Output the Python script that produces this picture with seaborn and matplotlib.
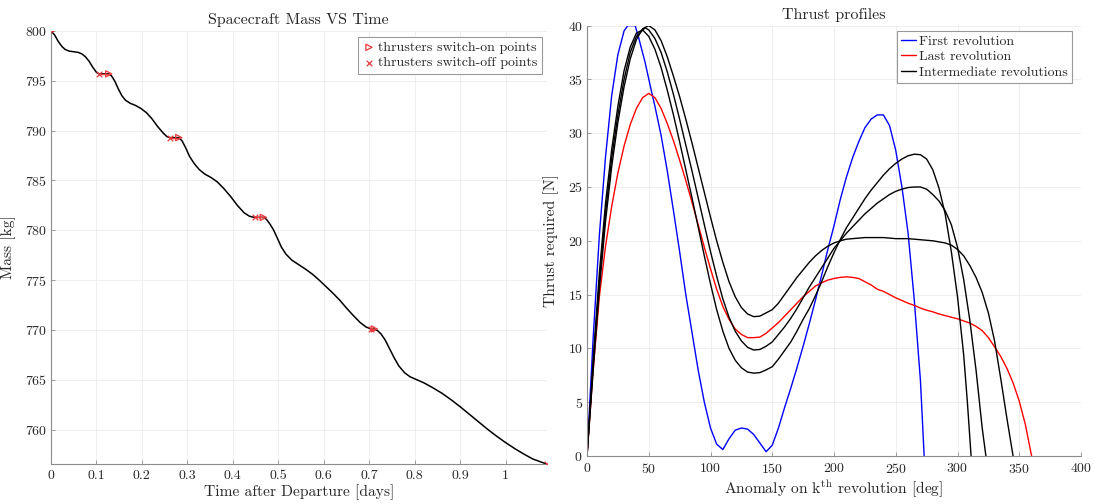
import numpy as np
import pandas as pd
import matplotlib
matplotlib.use("Agg")
import matplotlib.pyplot as plt
import seaborn as sns
from matplotlib.ticker import FuncFormatter

# ---------------- data: left panel (mass vs time) ----------------
time_days = [0, 0.008, 0.016, 0.024, 0.031, 0.04, 0.05, 0.06, 0.068, 0.076, 0.084, 0.092, 0.1,
             0.106, 0.127, 0.133, 0.14, 0.148, 0.156, 0.164, 0.174, 0.185, 0.197, 0.21, 0.222,
             0.234, 0.246, 0.255, 0.262, 0.281, 0.288, 0.296, 0.305, 0.315, 0.326, 0.338, 0.352,
             0.366, 0.38, 0.395, 0.41, 0.425, 0.437, 0.448, 0.467, 0.474, 0.482, 0.49, 0.498,
             0.507, 0.517, 0.53, 0.545, 0.56, 0.575, 0.59, 0.605, 0.62, 0.635, 0.65, 0.665, 0.68,
             0.693, 0.704, 0.711, 0.718, 0.726, 0.735, 0.745, 0.755, 0.765, 0.778, 0.79, 0.8,
             0.82, 0.84, 0.86, 0.88, 0.9, 0.92, 0.94, 0.96, 0.98, 1.0, 1.02, 1.04, 1.06, 1.075, 1.09]
mass_kg = [800, 799.6, 798.95, 798.45, 798.15, 797.98, 797.92, 797.85, 797.7, 797.4, 796.95, 796.35,
           795.85, 795.7, 795.7, 795.5, 795.0, 794.2, 793.5, 793.05, 792.75, 792.55, 792.25, 791.8,
           791.2, 790.45, 789.8, 789.4, 789.3, 789.3, 789.0, 788.3, 787.4, 786.7, 786.1, 785.65,
           785.3, 784.85, 784.2, 783.4, 782.5, 781.75, 781.4, 781.3, 781.3, 781.1, 780.6, 780.0,
           779.2, 778.3, 777.6, 777.0, 776.55, 776.1, 775.6, 775.0, 774.35, 773.7, 773.0, 772.2,
           771.45, 770.75, 770.3, 770.1, 770.1, 769.95, 769.6, 769.0, 768.1, 767.2, 766.4, 765.7,
           765.3, 765.1, 764.7, 764.2, 763.65, 763.0, 762.3, 761.55, 760.8, 760.05, 759.35,
           758.7, 758.1, 757.55, 757.05, 756.8, 756.55]
switch_on_t = [0, 0.127, 0.281, 0.467, 0.711]
switch_on_m = [800, 795.7, 789.3, 781.3, 770.1]
switch_off_t = [0.106, 0.262, 0.448, 0.704, 1.09]
switch_off_m = [795.7, 789.3, 781.3, 770.1, 756.55]

# ---------------- data: right panel (thrust profiles) ----------------
first_deg = [0, 5, 10, 15, 20, 25, 30, 33, 39, 42, 47, 52, 55, 60, 65, 70, 75, 80, 85, 90, 95, 100,
             105, 110, 115, 120, 125, 130, 135, 140, 145, 150, 155, 160, 165, 170, 175, 180, 185,
             190, 195, 200, 205, 210, 215, 220, 225, 230, 235, 240, 245, 250, 255, 260, 265, 270, 273]
first_thr = [0, 11, 20.5, 27.8, 33.5, 37.3, 39.5, 40, 40, 38.8, 36.6, 34, 32.5, 29.8, 26.5, 22.8, 19,
             15, 11.5, 8, 5, 2.6, 1.1, 0.6, 1.6, 2.4, 2.6, 2.5, 2.0, 1.2, 0.4, 1.0, 2.6, 4.5, 6.3,
             8.2, 10.2, 12.3, 14.5, 16.8, 19.2, 21.4, 23.8, 25.9, 27.7, 29.2, 30.5, 31.3, 31.7, 31.7,
             30.7, 28.4, 25, 20.7, 14.5, 7, 0]

last_deg = [0, 5, 10, 15, 20, 25, 30, 35, 40, 45, 50, 55, 60, 65, 70, 75, 80, 85, 90, 95, 100, 105,
            110, 115, 120, 125, 130, 135, 140, 145, 150, 155, 160, 165, 170, 175, 180, 185, 190, 195,
            200, 205, 210, 215, 220, 225, 230, 235, 240, 245, 250, 255, 260, 265, 270, 275, 280, 285,
            290, 295, 300, 305, 310, 315, 320, 325, 330, 335, 340, 345, 350, 355, 360]
last_thr = [0, 8, 14.8, 19.5, 23.2, 26.3, 28.8, 30.8, 32.3, 33.3, 33.7, 33.3, 32.3, 30.9, 29.3, 27.5,
            25.6, 23.6, 21.5, 19.4, 17.4, 15.5, 13.9, 12.7, 11.8, 11.3, 11.0, 11.0, 11.05, 11.4, 11.9,
            12.4, 13.0, 13.6, 14.2, 14.8, 15.3, 15.8, 16.1, 16.35, 16.5, 16.6, 16.65, 16.6, 16.5,
            16.2, 15.9, 15.5, 15.3, 15.0, 14.7, 14.45, 14.2, 14.0, 13.75, 13.55, 13.4, 13.2, 13.05,
            12.9, 12.75, 12.55, 12.35, 12.05, 11.65, 11.0, 10.15, 9.25, 8.15, 6.8, 5.1, 2.9, 0]

rev2_deg = [0, 5, 10, 15, 20, 25, 30, 35, 40, 45, 50, 55, 60, 65, 70, 75, 80, 85, 90, 95, 100, 105,
            110, 115, 120, 125, 130, 135, 140, 145, 150, 155, 160, 165, 170, 175, 180, 185, 190, 195,
            200, 205, 210, 215, 220, 225, 230, 235, 240, 245, 250, 255, 260, 265, 270, 275, 280, 285,
            290, 295, 300, 305, 308, 311]
rev2_thr = [0, 9, 17, 23.5, 28.5, 32.5, 35.8, 38, 39.3, 39.6, 39.0, 37.8, 36.1, 34.0, 31.7, 29.2,
            26.6, 24.0, 21.3, 18.6, 16.0, 13.6, 11.6, 10.0, 8.9, 8.2, 7.8, 7.7, 7.75, 8.0, 8.3, 9.0,
            9.8, 10.6, 11.6, 12.7, 13.7, 14.9, 16.2, 17.6, 18.9, 20.1, 21.2, 22.1, 23.0, 23.9, 24.7,
            25.4, 26.1, 26.7, 27.2, 27.6, 27.9, 28.05, 28.0, 27.6, 26.6, 24.9, 22.5, 19.0, 14.8, 9.4,
            5.0, 0]

rev3_deg = [0, 5, 10, 15, 20, 25, 30, 35, 40, 47, 50, 55, 60, 65, 70, 75, 80, 85, 90, 95, 100, 105,
            110, 115, 120, 125, 130, 135, 140, 145, 150, 155, 160, 165, 170, 175, 180, 185, 190, 195,
            200, 205, 210, 215, 220, 225, 230, 235, 240, 245, 250, 255, 260, 265, 270, 275, 280, 285,
            290, 295, 300, 305, 310, 315, 320, 323]
rev3_thr = [0, 8.5, 16.2, 22.6, 27.7, 31.7, 35, 37.5, 39, 39.8, 39.6, 38.8, 37.5, 35.7, 33.6, 31.3,
            28.9, 26.5, 24.0, 21.5, 19.0, 16.7, 14.6, 12.9, 11.6, 10.7, 10.1, 9.85, 9.9, 10.2, 10.6,
            11.3, 12.0, 12.8, 13.7, 14.7, 15.7, 16.6, 17.5, 18.4, 19.3, 20.0, 20.7, 21.3, 21.9, 22.5,
            23.0, 23.5, 23.9, 24.3, 24.6, 24.8, 24.95, 25.0, 25.0, 24.8, 24.3, 23.7, 22.8, 21.5, 19.4,
            16.4, 12.6, 8.0, 2.6, 0]

rev4_deg = [0, 5, 10, 15, 20, 25, 30, 35, 40, 45, 50, 55, 60, 65, 70, 75, 80, 85, 90, 95, 100, 105,
            110, 115, 120, 125, 130, 135, 140, 145, 150, 155, 160, 165, 170, 175, 180, 185, 190, 195,
            200, 205, 210, 215, 220, 225, 230, 240, 250, 260, 270, 280, 285, 290, 295, 300, 305, 310,
            315, 320, 325, 330, 335, 340, 345]
rev4_thr = [0, 8, 15.5, 21.8, 26.9, 31, 34.3, 36.9, 38.7, 39.7, 40.0, 39.6, 38.6, 37.1, 35.3, 33.4,
            31.3, 29.1, 26.8, 24.5, 22.2, 20.0, 18.0, 16.2, 14.8, 13.8, 13.2, 12.95, 13.0, 13.3, 13.6,
            14.2, 15.0, 15.8, 16.6, 17.3, 18.0, 18.6, 19.1, 19.5, 19.8, 20.0, 20.15, 20.2, 20.25, 20.3,
            20.3, 20.3, 20.2, 20.2, 20.1, 20.0, 19.9, 19.8, 19.6, 19.2, 18.6, 17.7, 16.6, 15.2, 13.3,
            10.7, 7.2, 3.5, 0]

intermediate = [(rev2_deg, rev2_thr), (rev3_deg, rev3_thr), (rev4_deg, rev4_thr)]

# ---------------- style ----------------
sns.set_theme(style="whitegrid")
plt.rcParams.update({
    "font.family": "serif",
    "font.serif": ["cmr10", "DejaVu Serif"],
    "mathtext.fontset": "cm",
    "axes.formatter.use_mathtext": True,
    "axes.unicode_minus": False,
    "grid.color": "#ebebeb",
    "grid.linewidth": 0.6,
    "axes.edgecolor": "#8c8c8c",
    "axes.linewidth": 0.8,
    "text.color": "#262626",
    "axes.labelcolor": "#262626",
    "xtick.color": "#262626",
    "ytick.color": "#262626",
})

W, H = 1095, 504
fig = plt.figure(figsize=(W / 100, H / 100), dpi=100)
ax1 = fig.add_axes([51 / W, (H - 464) / H, (546.5 - 51) / W, (464 - 31) / H])
ax2 = fig.add_axes([587 / W, (H - 456) / H, (1081 - 587) / W, (456 - 25.6) / H])

red = "#e8393a"

# left panel
sns.lineplot(x=time_days, y=mass_kg, ax=ax1, color="black", lw=1.1, sort=False, estimator=None)
for a, b in zip(switch_off_t[:-1], switch_on_t[1:]):
    m = switch_on_m[switch_on_t.index(b)]
    ax1.plot([a, b], [m, m], color=red, lw=1.0, zorder=4)
sns.scatterplot(x=switch_on_t, y=switch_on_m, ax=ax1, marker=">", s=20, facecolors="none",
                edgecolor=red, linewidth=0.9, color=red, label="thrusters switch-on points", zorder=5)
sns.scatterplot(x=switch_off_t, y=switch_off_m, ax=ax1, marker="x", s=16, color=red,
                linewidth=0.9, label="thrusters switch-off points", zorder=5)
ax1.set_xlim(0, max(time_days))
ax1.set_ylim(min(mass_kg), 800)
ax1.set_xticks(np.arange(0, 1.01, 0.1))
ax1.set_yticks(np.arange(760, 801, 5))
ax1.xaxis.set_major_formatter(FuncFormatter(lambda v, p: "%g" % round(v, 2)))
ax1.set_title("Spacecraft Mass VS Time", fontsize=11.5, pad=5)
ax1.set_xlabel("Time after Departure [days]", fontsize=11.2, labelpad=2)
ax1.set_ylabel("Mass [kg]", fontsize=11.2)
ax1.yaxis.set_label_coords(-0.071, 0.5)
leg1 = ax1.legend(loc="upper right", bbox_to_anchor=(0.990, 0.986), fontsize=10, frameon=True,
                  fancybox=False, framealpha=1, edgecolor="#9a9a9a", handletextpad=0.15,
                  borderpad=0.3, labelspacing=0.2, borderaxespad=0, handlelength=1.0)
leg1.get_frame().set_linewidth(0.8)

# right panel
sns.lineplot(x=first_deg, y=first_thr, ax=ax2, color="#0000ff", lw=1.0, sort=False, estimator=None,
             label="First revolution")
sns.lineplot(x=last_deg, y=last_thr, ax=ax2, color="#ff0000", lw=1.0, sort=False, estimator=None,
             label="Last revolution")
for i, (d, t) in enumerate(intermediate):
    sns.lineplot(x=d, y=t, ax=ax2, color="black", lw=1.0, sort=False, estimator=None,
                 label="Intermediate revolutions" if i == 0 else None)
ax2.set_xlim(0, 400)
ax2.set_ylim(0, 40)
ax2.set_xticks(np.arange(0, 401, 50))
ax2.set_yticks(np.arange(0, 41, 5))
ax2.set_title("Thrust profiles", fontsize=11.5, pad=5)
ax2.set_xlabel(r"Anomaly on k$^{\mathrm{th}}$ revolution [deg]", fontsize=11.2, labelpad=2)
ax2.set_ylabel("Thrust required [N]", fontsize=11.2)
ax2.yaxis.set_label_coords(-0.057, 0.5)
leg2 = ax2.legend(loc="upper right", bbox_to_anchor=(0.981, 0.988), fontsize=10, frameon=True,
                  fancybox=False, framealpha=1, edgecolor="#9a9a9a", handletextpad=0.15,
                  borderpad=0.3, labelspacing=0.2, borderaxespad=0, handlelength=1.1)
leg2.get_frame().set_linewidth(0.8)

for ax in (ax1, ax2):
    ax.spines["top"].set_visible(False)
    ax.spines["right"].set_visible(False)
    ax.tick_params(axis="both", which="major", labelsize=10, direction="in", length=3,
                   width=0.6, color="#8c8c8c", pad=3, bottom=True, left=True)
    ax.tick_params(axis="x", pad=4)
    ax.grid(True, color="#ebebeb", lw=0.6)
    ax.set_axisbelow(True)

fig.savefig("out.png", dpi=100)
